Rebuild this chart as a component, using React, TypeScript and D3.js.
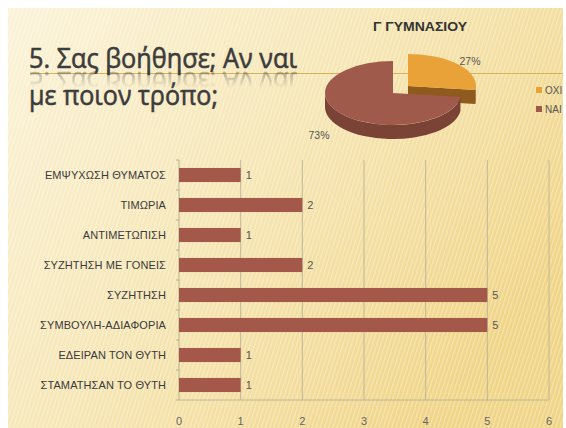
import React from 'react';
import * as d3 from 'd3';

// bar chart data (top to bottom as shown)
const categories = [
  'ΕΜΨΥΧΩΣΗ ΘΥΜΑΤΟΣ',
  'ΤΙΜΩΡΙΑ',
  'ΑΝΤΙΜΕΤΩΠΙΣΗ',
  'ΣΥΖΗΤΗΣΗ ΜΕ ΓΟΝΕΙΣ',
  'ΣΥΖΗΤΗΣΗ',
  'ΣΥΜΒΟΥΛΗ-ΑΔΙΑΦΟΡΙΑ',
  'ΕΔΕΙΡΑΝ ΤΟΝ ΘΥΤΗ',
  'ΣΤΑΜΑΤΗΣΑΝ ΤΟ ΘΥΤΗ',
];
const counts = [1, 2, 1, 2, 5, 5, 1, 1];
const xTicks = [0, 1, 2, 3, 4, 5, 6];

// pie data
const pieLabels = ['ΟΧΙ', 'ΝΑΙ'];
const pieValues = [27, 73];
const pieTitle = 'Γ ΓΥΜΝΑΣΙΟΥ';

const W = 566;
const H = 428;

const barColor = '#a3584a';
const pieTop = ['#e9a238', '#a05a4c'];
const pieSide = ['#8e5a1e', '#7b4236'];

const x = d3.scaleLinear().domain([0, 6]).range([179, 549]);
const y = d3.scaleBand<string>().domain(categories).range([160, 400]).paddingInner(0.53).paddingOuter(0.265);

// 3d pie geometry
const cx = 393;
const cy = 93;
const rx = 68;
const ry = 32;
const depth = 14;
const explode = [15, -7];

const pt = (a: number, ox: number, oy: number) => [ox + rx * Math.sin(a), oy - ry * Math.cos(a)];

function wallPath(b0: number, b1: number, ox: number, oy: number) {
  const p0 = pt(b0, ox, oy);
  const p1 = pt(b1, ox, oy);
  const large = b1 - b0 > Math.PI ? 1 : 0;
  return `M${p0[0]},${p0[1]} A${rx},${ry} 0 ${large} 1 ${p1[0]},${p1[1]} L${p1[0]},${p1[1] + depth} A${rx},${ry} 0 ${large} 0 ${p0[0]},${p0[1] + depth} Z`;
}

function cutPath(a: number, ox: number, oy: number) {
  const p = pt(a, ox, oy);
  return `M${ox},${oy} L${p[0]},${p[1]} L${p[0]},${p[1] + depth} L${ox},${oy + depth} Z`;
}

export default function App() {
  const arcs = d3.pie<number>().sort(null)(pieValues);
  const unitArc = d3.arc<d3.PieArcDatum<number>>().innerRadius(0).outerRadius(rx);

  const slices = arcs.map((a, i) => {
    const ox = cx + (i === 0 ? explode[0] : 0);
    const oy = cy + (i === 0 ? explode[1] : 0);
    const b0 = Math.max(a.startAngle, Math.PI / 2);
    const b1 = Math.min(a.endAngle, (3 * Math.PI) / 2);
    return (
      <g key={i}>
        {b1 > b0 && <path d={wallPath(b0, b1, ox, oy)} fill={pieSide[i]} />}
        {i === 0 && <path d={cutPath(a.endAngle, ox, oy)} fill={pieSide[i]} />}
        <path d={unitArc(a) as string} transform={`translate(${ox},${oy}) scale(1,${ry / rx})`} fill={pieTop[i]} />
      </g>
    );
  });

  return (
    <svg width={W} height={H} style={{ position: 'absolute', left: 0, top: 0 }} fontFamily="'Liberation Sans', Arial, sans-serif">
      <defs>
        <linearGradient id="bg" x1="0" y1="0" x2="1" y2="0.6">
          <stop offset="0" stopColor="#fbf3d8" />
          <stop offset="0.5" stopColor="#f6e6b4" />
          <stop offset="1" stopColor="#f0d485" />
        </linearGradient>
        <pattern id="stripes" width="4" height="4" patternUnits="userSpaceOnUse" patternTransform="rotate(18)">
          <rect width="1.3" height="4" fill="#ffffff" opacity="0.35" />
        </pattern>
        <linearGradient id="fade" x1="0" y1="0" x2="0" y2="1">
          <stop offset="0" stopColor="#fff" stopOpacity="0.4" />
          <stop offset="1" stopColor="#fff" stopOpacity="0" />
        </linearGradient>
        <mask id="reflMask">
          <rect x="0" y="70" width="320" height="18" fill="url(#fade)" />
        </mask>
        <clipPath id="legendClip">
          <rect x="0" y="0" width="563" height={H} />
        </clipPath>
        <text id="title1" x="29" y="68" textLength="268" lengthAdjust="spacingAndGlyphs" fontFamily="'Open Sans', sans-serif" fontSize="27" fill="#3c3c3c" stroke="#3c3c3c" strokeWidth="0.6">5. Σας βοήθησε; Αν ναι</text>
      </defs>

      <rect width={W} height={H} fill="#ffffff" />
      <rect x="8" y="8" width="555" height={H - 8} fill="url(#bg)" />
      <rect x="8" y="8" width="555" height={H - 8} fill="url(#stripes)" />

      {/* title */}
      <line x1="30" x2="563" y1="73.5" y2="73.5" stroke="#d8b257" strokeWidth="1" />
      <use href="#title1" />
      <g mask="url(#reflMask)">
        <use href="#title1" transform="translate(0,140) scale(1,-1)" />
      </g>
      <text x="29" y="105" textLength="189" lengthAdjust="spacingAndGlyphs" fontFamily="'Open Sans', sans-serif" fontSize="27" fill="#3c3c3c" stroke="#3c3c3c" strokeWidth="0.6">με ποιον τρόπο;</text>

      {/* pie */}
      <text x="420" y="31" textAnchor="middle" fontSize="12" fontWeight="bold" fill="#333" textLength="94" lengthAdjust="spacingAndGlyphs">{pieTitle}</text>
      {slices}
      <text x="470" y="65" textAnchor="middle" fontSize="10.5" fill="#555">{Math.round(pieValues[0])}%</text>
      <text x="319" y="139" textAnchor="middle" fontSize="10.5" fill="#555">{Math.round(pieValues[1])}%</text>
      <g clipPath="url(#legendClip)">
        {pieLabels.map((l, i) => (
          <g key={l}>
            <rect x="536" y={87 + i * 19} width="6" height="6" fill={pieTop[i]} />
            <text x="545" y={94 + i * 19} fontSize="10" fill="#555">{l}</text>
          </g>
        ))}
      </g>

      {/* bar chart grid and axes */}
      {xTicks.slice(1).map((t) => (
        <line key={t} x1={x(t)} x2={x(t)} y1={160} y2={400} stroke="#b3ad96" strokeWidth="0.8" />
      ))}
      <line x1={x(0)} x2={x(6)} y1={400} y2={400} stroke="#b3ad96" strokeWidth="0.8" />
      <line x1={x(0)} x2={x(0)} y1={160} y2={400} stroke="#a9a38c" strokeWidth="0.8" />
      {d3.range(categories.length + 1).map((i) => (
        <line key={i} x1={x(0) - 3} x2={x(0)} y1={160 + i * y.step()} y2={160 + i * y.step()} stroke="#a9a38c" strokeWidth="0.8" />
      ))}
      {xTicks.map((t) => (
        <text key={t} x={x(t)} y={425} textAnchor="middle" fontSize="11" fill="#666">{t}</text>
      ))}

      {/* bars */}
      {categories.map((c, i) => (
        <g key={c}>
          <rect x={x(0)} y={y(c)} width={x(counts[i]) - x(0)} height={y.bandwidth()} fill={barColor} />
          <text x={x(counts[i]) + 5} y={(y(c) as number) + y.bandwidth() / 2 + 4} fontSize="11" fill="#555">{counts[i]}</text>
          <text x={166} y={(y(c) as number) + y.bandwidth() / 2 + 4} textAnchor="end" fontSize="11" fill="#3a3a3a" letterSpacing="0.1">{c}</text>
        </g>
      ))}
    </svg>
  );
}
